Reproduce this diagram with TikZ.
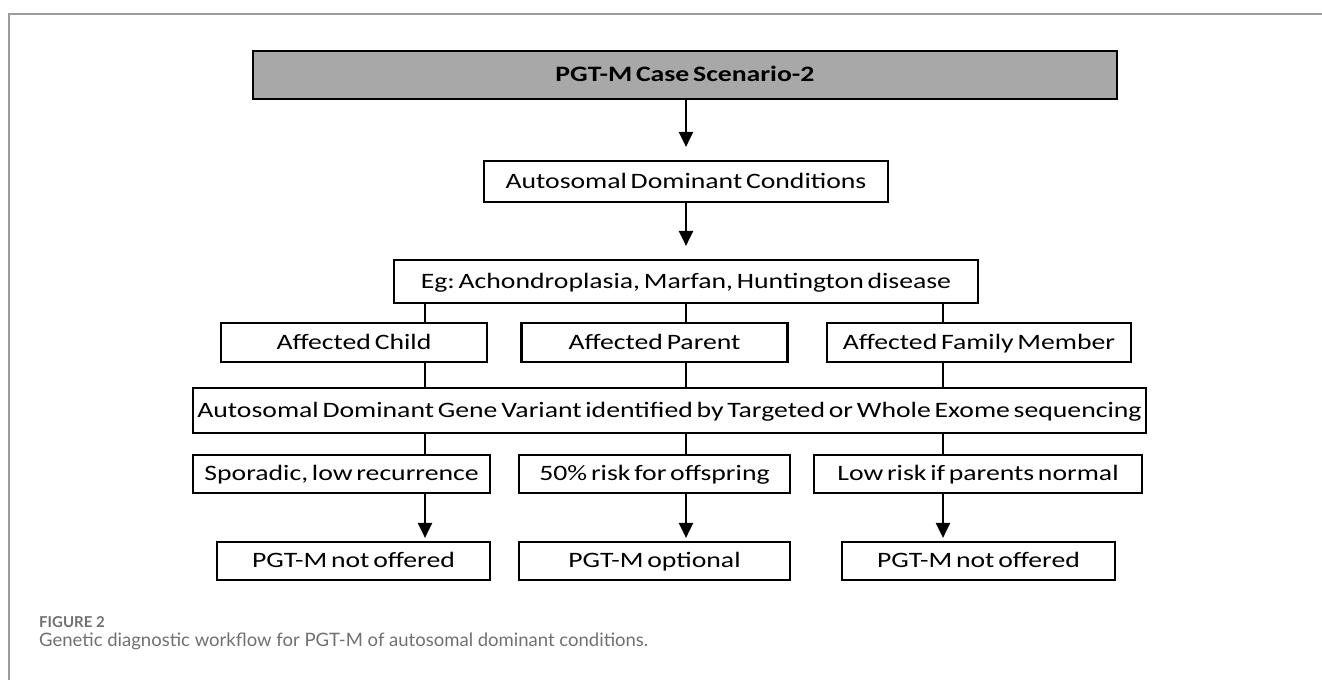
\documentclass[tikz,border=0pt]{standalone}
\usepackage{fontspec}
\setmainfont{Carlito}
\newfontfamily\boxfont[FakeStretch=1.26,WordSpace=0.6]{Carlito}
\newfontfamily\capfont{Lato}
\usetikzlibrary{arrows.meta,calc,positioning}
\definecolor{titlegray}{HTML}{A8A8A8}
\definecolor{framegray}{HTML}{9C9C9C}
\definecolor{capgray}{HTML}{707070}
\frenchspacing
\tikzset{
	every node/.style={
		font=\boxfont\fontsize{22}{25}\selectfont
	},
	stage/.style={
		shape=rectangle,
		draw,
		line width=2.2pt,
		inner sep=0pt,
		text height=16pt,
		text depth=3pt,
		text centered
	},
	headline/.style={
		stage,
		fill=titlegray,
		line width=2.8pt,
		font=\boxfont\bfseries\fontsize{22}{25}\selectfont
	},
	flow/.style={
		-{Triangle[length=15pt,width=14pt]},
		line width=2.2pt
	},
	link/.style={
		line width=2.2pt
	},
	caption/.style={
		anchor=west,
		inner sep=0pt,
		text=capgray
	}
}

\begin{document}
\begin{tikzpicture}[x=1pt,y=-1pt]
	\useasboundingbox (0,0) rectangle (1322,680);
	\draw[framegray, line width=1.6pt] (1322,14) -- (9,14) -- (9,680);
	
	\node (title) [headline, minimum width=864pt, minimum height=48pt] at (685,75) {PGT-M Case Scenario-2};
	\node (cond) [stage, minimum width=404pt, minimum height=41pt] at (686,181.5) {Autosomal Dominant Conditions};
	\node (eg) [stage, minimum width=584pt, minimum height=43pt] at (686,281.5) {Eg: Achondroplasia, Marfan, Huntington disease};
	
	\node (child) [stage, minimum width=266pt, minimum height=39pt] at (354,342.5) {Affected Child};
	\node (parent) [stage, minimum width=266pt, minimum height=39pt] at (654.5,342.5) {Affected Parent};
	\node (family) [stage, minimum width=304pt, minimum height=39pt] at (979,342.5) {Affected Family Member};
	
	\node (gene) [stage, minimum width=953pt, minimum height=45pt] at (669.5,410.5) {Autosomal Dominant Gene Variant identified by Targeted or Whole Exome sequencing};
	
	\node (sporadic) [stage, minimum width=297pt, minimum height=38pt] at (341.5,474) {Sporadic, low recurrence};
	\node (half) [stage, minimum width=271pt, minimum height=38pt] at (654.5,474) {50\% risk for offspring};
	\node (low) [stage, minimum width=328pt, minimum height=38pt] at (978,474) {Low risk if parents normal};
	
	\node (notA) [stage, minimum width=273pt, minimum height=38pt] at (353.5,561) {PGT-M not offered};
	\node (optional) [stage, minimum width=271pt, minimum height=38pt] at (654.5,561) {PGT-M optional};
	\node (notB) [stage, minimum width=273pt, minimum height=38pt] at (978.5,561) {PGT-M not offered};
	
	\coordinate (colA) at (425,0);
	\coordinate (colB) at (686,0);
	\coordinate (colC) at (943,0);
	
	\draw[flow, shorten >=13pt] (colB |- title.south) -- (colB |- cond.north);
	\draw[flow, shorten >=13pt] (colB |- cond.south) -- (colB |- eg.north);
	
	\foreach \col/\upper/\risk/\result in {colA/child/sporadic/notA, colB/parent/half/optional, colC/family/low/notB} {
		\draw[link] (\col |- eg.south) -- (\col |- \upper.north);
		\draw[link] (\col |- \upper.south) -- (\col |- gene.north);
		\draw[link] (\col |- gene.south) -- (\col |- \risk.north);
		\draw[flow, shorten >=3pt] (\col |- \risk.south) -- (\col |- \result.north);
	}
	
	\node (figno) [caption, font=\capfont\bfseries\fontsize{15}{17}\selectfont] at (39,622) {FIGURE 2};
	\node (figtext) [caption, font=\capfont\fontsize{18.5}{21}\selectfont] at (39,641) {Genetic diagnostic workflow for PGT-M of autosomal dominant conditions.};
\end{tikzpicture}
\end{document}
